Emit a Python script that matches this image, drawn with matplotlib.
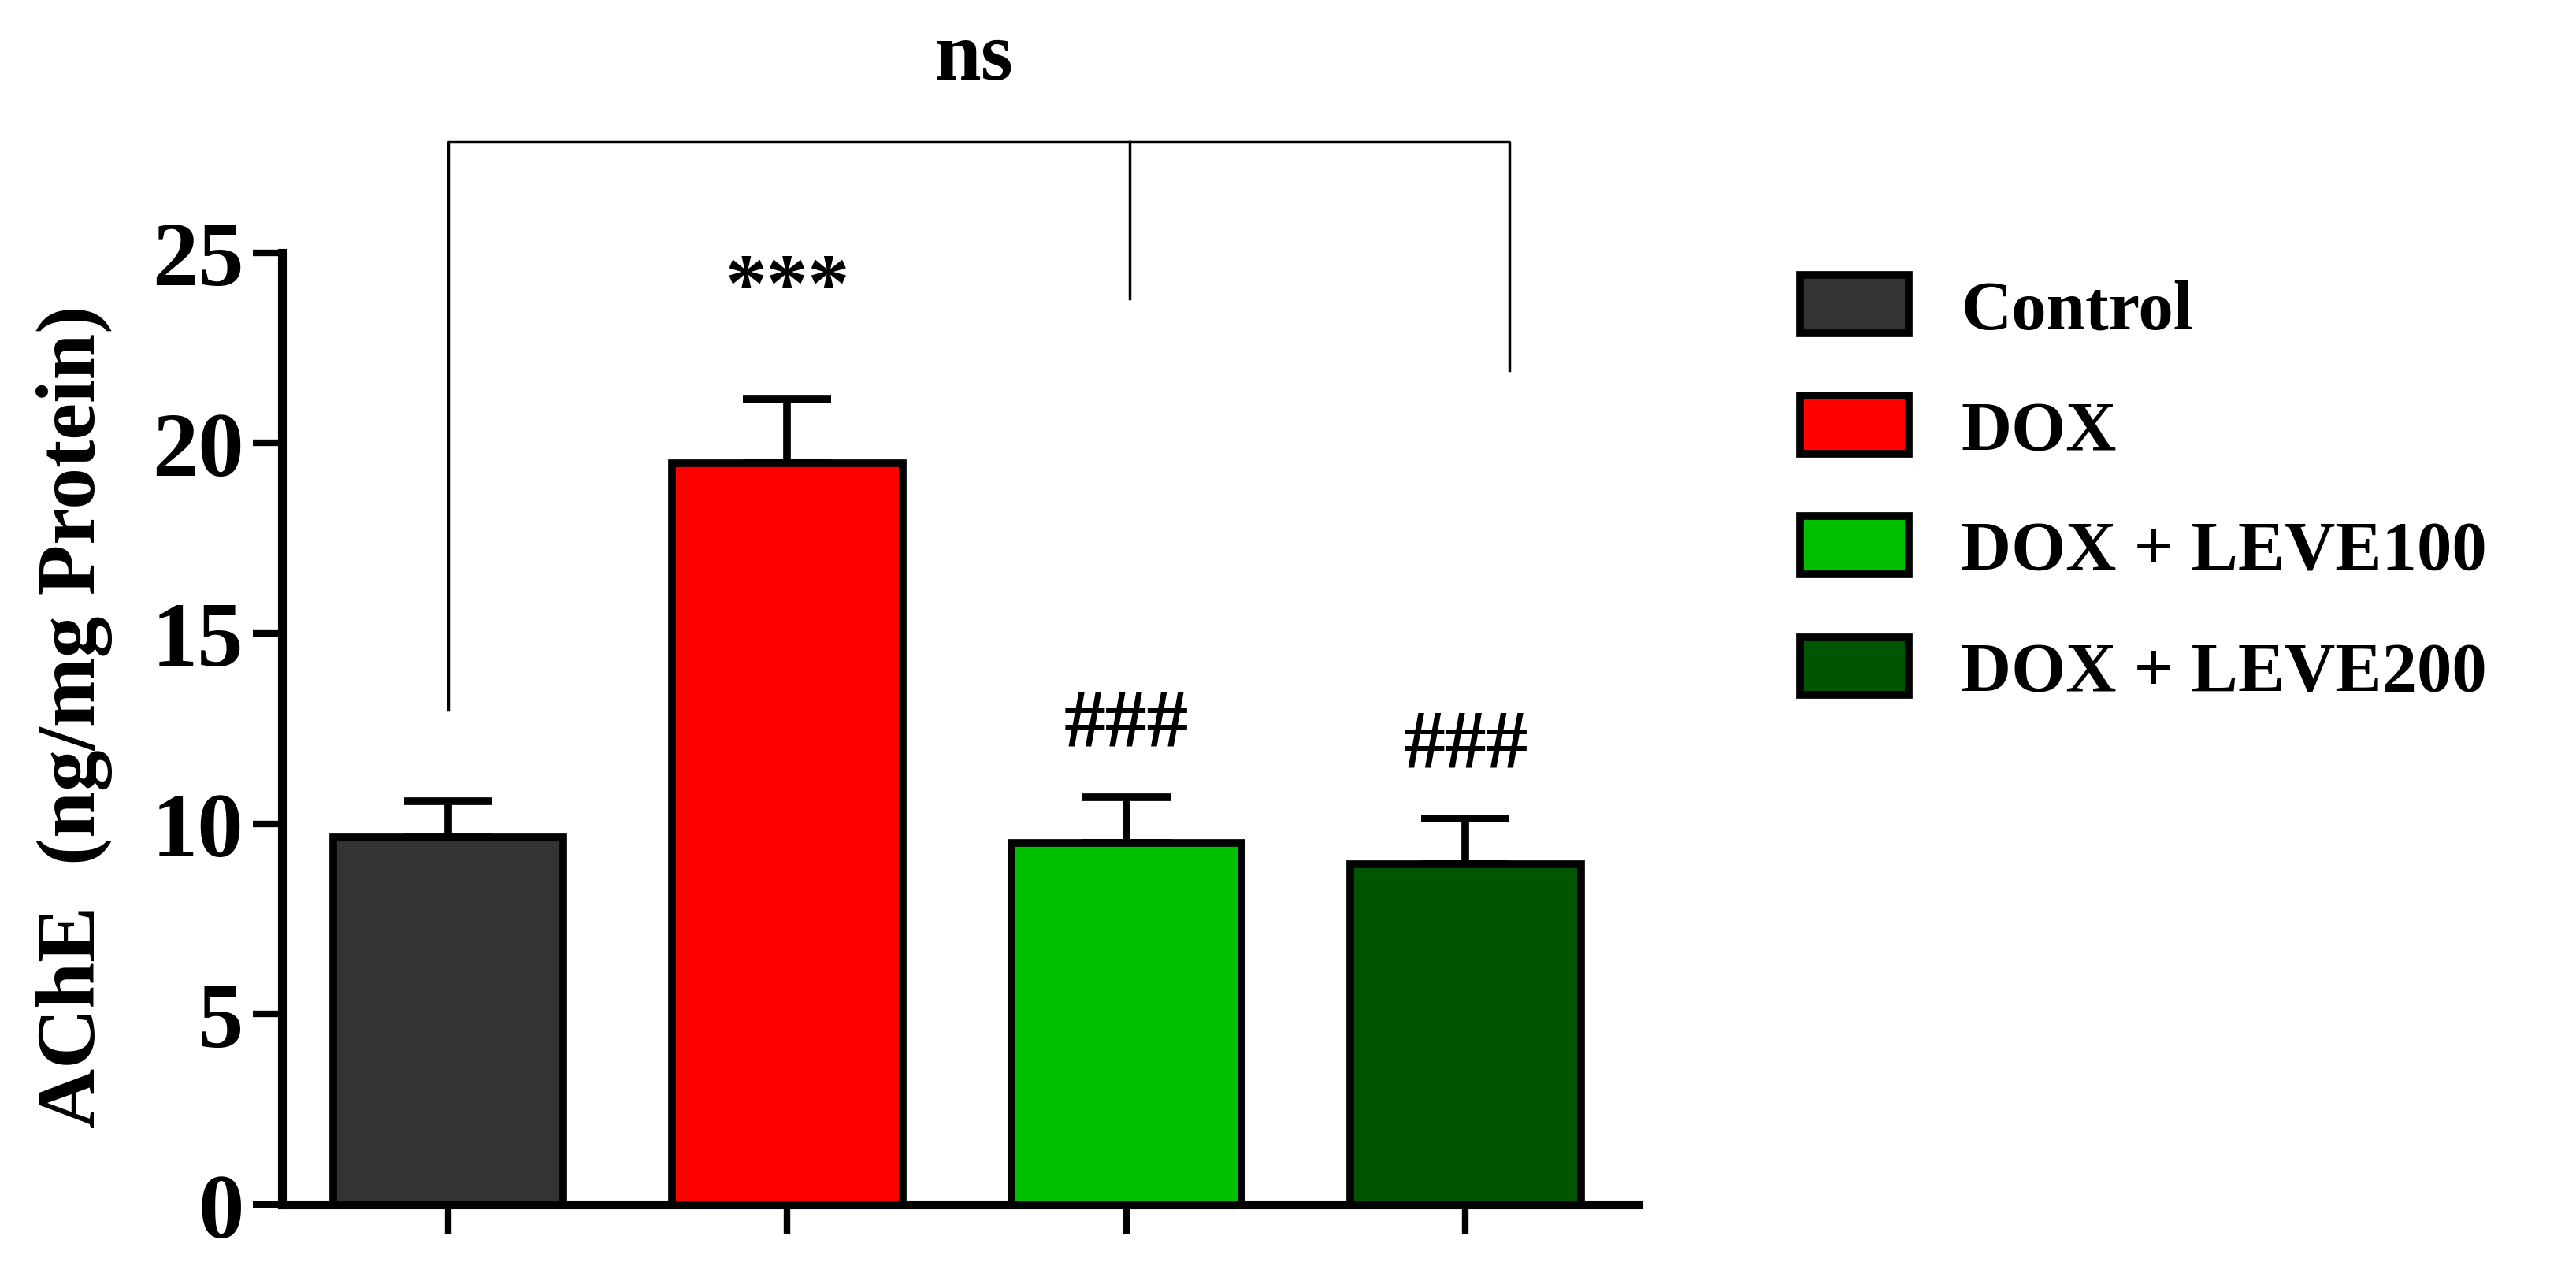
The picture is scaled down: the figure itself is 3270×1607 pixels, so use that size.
import matplotlib
matplotlib.use("Agg")
import matplotlib.pyplot as plt
from matplotlib.patches import Patch

groups = ["Control", "DOX", "DOX + LEVE100", "DOX + LEVE200"]
means = [9.64, 19.47, 9.49, 8.93]
errs = [0.96, 1.68, 1.21, 1.20]
colors = ["#333333", "#ff0000", "#00c000", "#005500"]
sig_labels = ["", "***", "###", "###"]
sig_y = [0, 24.0, 12.6, 12.05]
yticks = [0, 5, 10, 15, 20, 25]

plt.rcParams['font.family'] = ['Liberation Serif', 'DejaVu Serif']
plt.rcParams['font.weight'] = 'bold'

fig = plt.figure(figsize=(32.7, 16.08), dpi=100)
ax = fig.add_axes([358/3270, 0.0485, (2080-358)/3270, 0.80-0.0485])
x = list(range(len(groups)))
ax.bar(x, means, width=0.68, color=colors, edgecolor='black', linewidth=7, zorder=3)
ax.errorbar(x, means, yerr=[[0]*4, errs], fmt='none', ecolor='black',
            elinewidth=7, capsize=40, capthick=7, zorder=2)
ax.set_xlim(-0.49, 3.51)
ax.set_ylim(0, 25)
ax.set_yticks(yticks)
ax.set_xticks(x)
ax.set_xticklabels([])
for s in ['top', 'right']:
    ax.spines[s].set_visible(False)
for s in ['left', 'bottom']:
    ax.spines[s].set_linewidth(8)
ax.tick_params(axis='both', length=27, width=6)
ax.tick_params(axis='y', labelsize=84, pad=8)
for t in ax.get_yticklabels():
    t.set_fontweight('bold')

for xi, lab, yy in zip(x, sig_labels, sig_y):
    if lab:
        ax.text(xi, yy, lab, ha='center', va='center', fontsize=76, fontweight='bold', clip_on=False)

# ns bracket
top = 27.9
ax.plot([0, 0, 3.13, 3.13], [13.0, top, top, 21.9], color='black', lw=2.5, clip_on=False)
ax.plot([2.01, 2.01], [top, 23.8], color='black', lw=2.5, clip_on=False)
ax.text(1.55, 30.1, "ns", ha='center', va='center', fontsize=76, fontweight='bold', clip_on=False)

fig.text(95/3270, 0.434, "AChE  (ng/mg Protein)", rotation=90, ha='center', va='center',
         fontsize=76, fontweight='bold')

handles = [Patch(facecolor=c, edgecolor='black', linewidth=7) for c in colors]
leg = fig.legend(handles, groups, loc='upper left', bbox_to_anchor=(2285/3270, 1-350/1608),
                 frameon=False, prop={'family': 'Liberation Serif', 'weight': 'bold', 'size': 64},
                 handlelength=1.55, handleheight=0.9, labelspacing=0.75, handletextpad=0.75,
                 borderaxespad=0, borderpad=0)
fig.savefig("out.png", dpi=100, facecolor='white')
